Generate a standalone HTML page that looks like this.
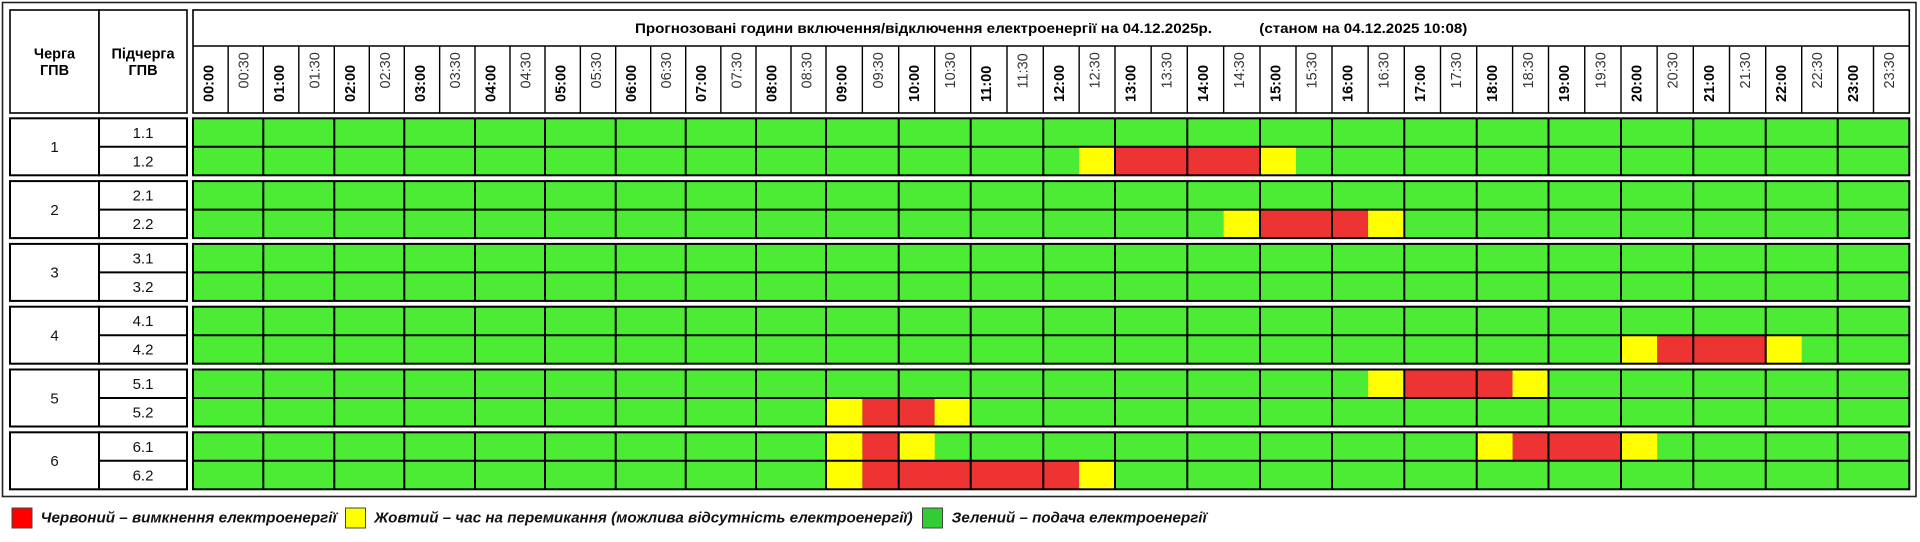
<!DOCTYPE html>
<html>
<head>
<meta charset="utf-8">
<style>
html,body{margin:0;padding:0;background:#fff;}
svg{display:block;}
text{font-family:"Liberation Sans","DejaVu Sans",sans-serif;}
.b{font-weight:bold;font-size:14.5px;fill:#000;}
.r{font-weight:normal;font-size:14.5px;fill:#333;}
.h{font-weight:bold;font-size:14.5px;fill:#000;}
.l{font-size:15px;fill:#111;}
.t{font-weight:bold;font-size:14px;fill:#000;}
.g{font-weight:bold;font-style:italic;font-size:14.5px;fill:#111;}
</style>
</head>
<body>
<svg width="1920" height="542" viewBox="0 0 1920 542" xmlns="http://www.w3.org/2000/svg">
<defs>
<path id="vl" d="M263.3 0V57M334.3 0V57M404.3 0V57M475 0V57M545 0V57M615.7 0V57M685.7 0V57M756 0V57M826 0V57M898.7 0V57M970.7 0V57M1043.3 0V57M1115 0V57M1187.3 0V57M1260 0V57M1332 0V57M1404.3 0V57M1476.7 0V57M1548.5 0V57M1621 0V57M1693.3 0V57M1765.7 0V57M1837.7 0V57" stroke="#000" stroke-width="2" fill="none"/>
</defs>
<rect x="0" y="0" width="1920" height="542" fill="#fff"/>
<!-- outer frame -->
<rect x="2.5" y="2.5" width="1913.5" height="494" fill="none" stroke="#222" stroke-width="1.6"/>

<!-- header left boxes -->
<rect x="10" y="10" width="89" height="103" fill="#fff" stroke="#000" stroke-width="1.6"/>
<rect x="99" y="10" width="88" height="103" fill="#fff" stroke="#000" stroke-width="1.6"/>
<text class="h" x="54.5" y="58.3" text-anchor="middle">Черга</text>
<text class="h" x="54.5" y="75" text-anchor="middle">ГПВ</text>
<text class="h" x="143" y="58.3" text-anchor="middle">Підчерга</text>
<text class="h" x="143" y="75" text-anchor="middle">ГПВ</text>

<!-- header time box -->
<rect x="193" y="10" width="1716.3" height="103" fill="#fff" stroke="#000" stroke-width="1.6"/>
<path d="M193 46H1909.3" stroke="#000" stroke-width="1.6"/>
<path d="M228.15 46V113M263.3 46V113M298.8 46V113M334.3 46V113M369.3 46V113M404.3 46V113M439.65 46V113M475 46V113M510 46V113M545 46V113M580.35 46V113M615.7 46V113M650.7 46V113M685.7 46V113M720.85 46V113M756 46V113M791 46V113M826 46V113M862.35 46V113M898.7 46V113M934.7 46V113M970.7 46V113M1007 46V113M1043.3 46V113M1079.15 46V113M1115 46V113M1151.15 46V113M1187.3 46V113M1223.65 46V113M1260 46V113M1296 46V113M1332 46V113M1368.15 46V113M1404.3 46V113M1440.5 46V113M1476.7 46V113M1512.6 46V113M1548.5 46V113M1584.75 46V113M1621 46V113M1657.15 46V113M1693.3 46V113M1729.5 46V113M1765.7 46V113M1801.7 46V113M1837.7 46V113M1873.5 46V113" stroke="#000" stroke-width="1.4" fill="none"/>
<text class="t" x="635" y="33" textLength="577" lengthAdjust="spacingAndGlyphs">Прогнозовані години включення/відключення електроенергії на 04.12.2025р.</text>
<text class="t" x="1259.3" y="33" textLength="208" lengthAdjust="spacingAndGlyphs">(станом на 04.12.2025 10:08)</text>

<!-- time labels -->
<text class="b" transform="translate(213.5,102) rotate(-90)">00:00</text>
<text class="r" transform="translate(248.7,88.5) rotate(-90)">00:30</text>
<text class="b" transform="translate(283.8,102) rotate(-90)">01:00</text>
<text class="r" transform="translate(319.3,88.5) rotate(-90)">01:30</text>
<text class="b" transform="translate(354.8,102) rotate(-90)">02:00</text>
<text class="r" transform="translate(389.8,88.5) rotate(-90)">02:30</text>
<text class="b" transform="translate(424.8,102) rotate(-90)">03:00</text>
<text class="r" transform="translate(460.2,88.5) rotate(-90)">03:30</text>
<text class="b" transform="translate(495.5,102) rotate(-90)">04:00</text>
<text class="r" transform="translate(530.5,88.5) rotate(-90)">04:30</text>
<text class="b" transform="translate(565.5,102) rotate(-90)">05:00</text>
<text class="r" transform="translate(600.9,88.5) rotate(-90)">05:30</text>
<text class="b" transform="translate(636.2,102) rotate(-90)">06:00</text>
<text class="r" transform="translate(671.2,88.5) rotate(-90)">06:30</text>
<text class="b" transform="translate(706.2,102) rotate(-90)">07:00</text>
<text class="r" transform="translate(741.4,88.5) rotate(-90)">07:30</text>
<text class="b" transform="translate(776.5,102) rotate(-90)">08:00</text>
<text class="r" transform="translate(811.5,88.5) rotate(-90)">08:30</text>
<text class="b" transform="translate(846.5,102) rotate(-90)">09:00</text>
<text class="r" transform="translate(882.9,88.5) rotate(-90)">09:30</text>
<text class="b" transform="translate(919.2,102) rotate(-90)">10:00</text>
<text class="r" transform="translate(955.2,88.5) rotate(-90)">10:30</text>
<text class="b" transform="translate(991.2,102) rotate(-90)">11:00</text>
<text class="r" transform="translate(1027.5,88.5) rotate(-90)">11:30</text>
<text class="b" transform="translate(1063.8,102) rotate(-90)">12:00</text>
<text class="r" transform="translate(1099.7,88.5) rotate(-90)">12:30</text>
<text class="b" transform="translate(1135.5,102) rotate(-90)">13:00</text>
<text class="r" transform="translate(1171.7,88.5) rotate(-90)">13:30</text>
<text class="b" transform="translate(1207.8,102) rotate(-90)">14:00</text>
<text class="r" transform="translate(1244.2,88.5) rotate(-90)">14:30</text>
<text class="b" transform="translate(1280.5,102) rotate(-90)">15:00</text>
<text class="r" transform="translate(1316.5,88.5) rotate(-90)">15:30</text>
<text class="b" transform="translate(1352.5,102) rotate(-90)">16:00</text>
<text class="r" transform="translate(1388.7,88.5) rotate(-90)">16:30</text>
<text class="b" transform="translate(1424.8,102) rotate(-90)">17:00</text>
<text class="r" transform="translate(1461,88.5) rotate(-90)">17:30</text>
<text class="b" transform="translate(1497.2,102) rotate(-90)">18:00</text>
<text class="r" transform="translate(1533.1,88.5) rotate(-90)">18:30</text>
<text class="b" transform="translate(1569,102) rotate(-90)">19:00</text>
<text class="r" transform="translate(1605.3,88.5) rotate(-90)">19:30</text>
<text class="b" transform="translate(1641.5,102) rotate(-90)">20:00</text>
<text class="r" transform="translate(1677.7,88.5) rotate(-90)">20:30</text>
<text class="b" transform="translate(1713.8,102) rotate(-90)">21:00</text>
<text class="r" transform="translate(1750,88.5) rotate(-90)">21:30</text>
<text class="b" transform="translate(1786.2,102) rotate(-90)">22:00</text>
<text class="r" transform="translate(1822.2,88.5) rotate(-90)">22:30</text>
<text class="b" transform="translate(1858.2,102) rotate(-90)">23:00</text>
<text class="r" transform="translate(1894,88.5) rotate(-90)">23:30</text>

<!-- GROUP 1 -->
<g transform="translate(0,118.3)">
<rect x="10" y="0" width="89" height="57" fill="#fff" stroke="#000" stroke-width="2"/>
<rect x="99" y="0" width="88" height="57" fill="#fff" stroke="#000" stroke-width="2"/>
<path d="M99 28.5H187" stroke="#000" stroke-width="2"/>
<text class="l" x="54.5" y="33.8" text-anchor="middle">1</text>
<text class="l" x="143" y="19.5" text-anchor="middle">1.1</text>
<text class="l" x="143" y="48" text-anchor="middle">1.2</text>
<rect x="193" y="0" width="1716.3" height="57" fill="#4ceb34"/>
<rect x="1079.15" y="28.5" width="35.85" height="28.5" fill="#ffff00"/>
<rect x="1115" y="28.5" width="145" height="28.5" fill="#ee3333"/>
<rect x="1260" y="28.5" width="36" height="28.5" fill="#ffff00"/>
<use href="#vl"/>
<path d="M193 28.5H1909.3" stroke="#000" stroke-width="2"/>
<rect x="193" y="0" width="1716.3" height="57" fill="none" stroke="#000" stroke-width="2"/>
</g>

<!-- GROUP 2 -->
<g transform="translate(0,181.1)">
<rect x="10" y="0" width="89" height="57" fill="#fff" stroke="#000" stroke-width="2"/>
<rect x="99" y="0" width="88" height="57" fill="#fff" stroke="#000" stroke-width="2"/>
<path d="M99 28.5H187" stroke="#000" stroke-width="2"/>
<text class="l" x="54.5" y="33.8" text-anchor="middle">2</text>
<text class="l" x="143" y="19.5" text-anchor="middle">2.1</text>
<text class="l" x="143" y="48" text-anchor="middle">2.2</text>
<rect x="193" y="0" width="1716.3" height="57" fill="#4ceb34"/>
<rect x="1223.65" y="28.5" width="36.35" height="28.5" fill="#ffff00"/>
<rect x="1260" y="28.5" width="108.15" height="28.5" fill="#ee3333"/>
<rect x="1368.15" y="28.5" width="36.15" height="28.5" fill="#ffff00"/>
<use href="#vl"/>
<path d="M193 28.5H1909.3" stroke="#000" stroke-width="2"/>
<rect x="193" y="0" width="1716.3" height="57" fill="none" stroke="#000" stroke-width="2"/>
</g>

<!-- GROUP 3 -->
<g transform="translate(0,243.9)">
<rect x="10" y="0" width="89" height="57" fill="#fff" stroke="#000" stroke-width="2"/>
<rect x="99" y="0" width="88" height="57" fill="#fff" stroke="#000" stroke-width="2"/>
<path d="M99 28.5H187" stroke="#000" stroke-width="2"/>
<text class="l" x="54.5" y="33.8" text-anchor="middle">3</text>
<text class="l" x="143" y="19.5" text-anchor="middle">3.1</text>
<text class="l" x="143" y="48" text-anchor="middle">3.2</text>
<rect x="193" y="0" width="1716.3" height="57" fill="#4ceb34"/>
<use href="#vl"/>
<path d="M193 28.5H1909.3" stroke="#000" stroke-width="2"/>
<rect x="193" y="0" width="1716.3" height="57" fill="none" stroke="#000" stroke-width="2"/>
</g>

<!-- GROUP 4 -->
<g transform="translate(0,306.7)">
<rect x="10" y="0" width="89" height="57" fill="#fff" stroke="#000" stroke-width="2"/>
<rect x="99" y="0" width="88" height="57" fill="#fff" stroke="#000" stroke-width="2"/>
<path d="M99 28.5H187" stroke="#000" stroke-width="2"/>
<text class="l" x="54.5" y="33.8" text-anchor="middle">4</text>
<text class="l" x="143" y="19.5" text-anchor="middle">4.1</text>
<text class="l" x="143" y="48" text-anchor="middle">4.2</text>
<rect x="193" y="0" width="1716.3" height="57" fill="#4ceb34"/>
<rect x="1621" y="28.5" width="36.15" height="28.5" fill="#ffff00"/>
<rect x="1657.15" y="28.5" width="108.55" height="28.5" fill="#ee3333"/>
<rect x="1765.7" y="28.5" width="36" height="28.5" fill="#ffff00"/>
<use href="#vl"/>
<path d="M193 28.5H1909.3" stroke="#000" stroke-width="2"/>
<rect x="193" y="0" width="1716.3" height="57" fill="none" stroke="#000" stroke-width="2"/>
</g>

<!-- GROUP 5 -->
<g transform="translate(0,369.5)">
<rect x="10" y="0" width="89" height="57" fill="#fff" stroke="#000" stroke-width="2"/>
<rect x="99" y="0" width="88" height="57" fill="#fff" stroke="#000" stroke-width="2"/>
<path d="M99 28.5H187" stroke="#000" stroke-width="2"/>
<text class="l" x="54.5" y="33.8" text-anchor="middle">5</text>
<text class="l" x="143" y="19.5" text-anchor="middle">5.1</text>
<text class="l" x="143" y="48" text-anchor="middle">5.2</text>
<rect x="193" y="0" width="1716.3" height="57" fill="#4ceb34"/>
<rect x="1368.15" y="0" width="36.15" height="28.5" fill="#ffff00"/>
<rect x="1404.3" y="0" width="108.3" height="28.5" fill="#ee3333"/>
<rect x="1512.6" y="0" width="35.9" height="28.5" fill="#ffff00"/>
<rect x="826" y="28.5" width="36.35" height="28.5" fill="#ffff00"/>
<rect x="862.35" y="28.5" width="72.35" height="28.5" fill="#ee3333"/>
<rect x="934.7" y="28.5" width="36" height="28.5" fill="#ffff00"/>
<use href="#vl"/>
<path d="M193 28.5H1909.3" stroke="#000" stroke-width="2"/>
<rect x="193" y="0" width="1716.3" height="57" fill="none" stroke="#000" stroke-width="2"/>
</g>

<!-- GROUP 6 -->
<g transform="translate(0,432.3)">
<rect x="10" y="0" width="89" height="57" fill="#fff" stroke="#000" stroke-width="2"/>
<rect x="99" y="0" width="88" height="57" fill="#fff" stroke="#000" stroke-width="2"/>
<path d="M99 28.5H187" stroke="#000" stroke-width="2"/>
<text class="l" x="54.5" y="33.8" text-anchor="middle">6</text>
<text class="l" x="143" y="19.5" text-anchor="middle">6.1</text>
<text class="l" x="143" y="48" text-anchor="middle">6.2</text>
<rect x="193" y="0" width="1716.3" height="57" fill="#4ceb34"/>
<rect x="826" y="0" width="36.35" height="28.5" fill="#ffff00"/>
<rect x="862.35" y="0" width="36.35" height="28.5" fill="#ee3333"/>
<rect x="898.7" y="0" width="36" height="28.5" fill="#ffff00"/>
<rect x="1476.7" y="0" width="35.9" height="28.5" fill="#ffff00"/>
<rect x="1512.6" y="0" width="108.4" height="28.5" fill="#ee3333"/>
<rect x="1621" y="0" width="36.15" height="28.5" fill="#ffff00"/>
<rect x="826" y="28.5" width="36.35" height="28.5" fill="#ffff00"/>
<rect x="862.35" y="28.5" width="216.8" height="28.5" fill="#ee3333"/>
<rect x="1079.15" y="28.5" width="35.85" height="28.5" fill="#ffff00"/>
<use href="#vl"/>
<path d="M193 28.5H1909.3" stroke="#000" stroke-width="2"/>
<rect x="193" y="0" width="1716.3" height="57" fill="none" stroke="#000" stroke-width="2"/>
</g>

<!-- legend -->
<rect x="12" y="508" width="20" height="20" fill="#ff0000" stroke="#444" stroke-width="1"/>
<text class="g" x="40.7" y="522.5" textLength="296" lengthAdjust="spacingAndGlyphs">Червоний – вимкнення електроенергії</text>
<rect x="345.5" y="508" width="20" height="20" fill="#ffff00" stroke="#444" stroke-width="1"/>
<text class="g" x="374.3" y="522.5" textLength="538.4" lengthAdjust="spacingAndGlyphs">Жовтий – час на перемикання (можлива відсутність електроенергії)</text>
<rect x="922.5" y="508" width="20" height="20" fill="#33cc33" stroke="#444" stroke-width="1"/>
<text class="g" x="951.7" y="522.5" textLength="255" lengthAdjust="spacingAndGlyphs">Зелений – подача електроенергії</text>
</svg>
</body>
</html>
